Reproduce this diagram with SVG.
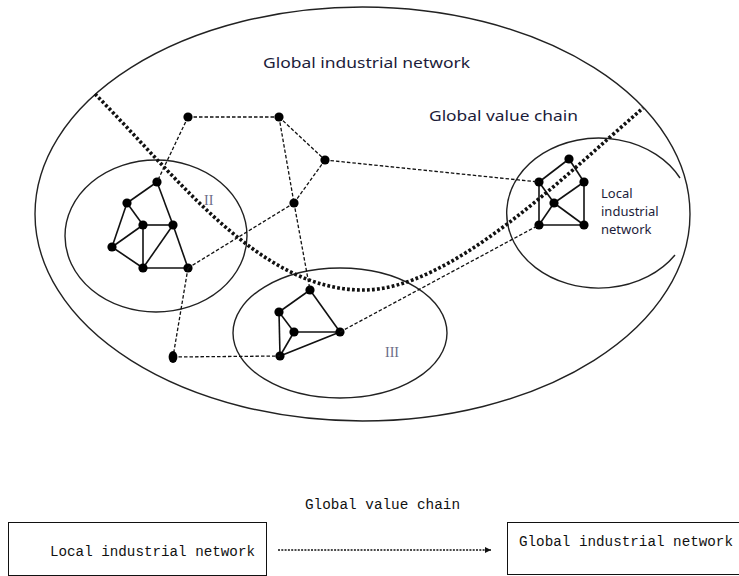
<svg xmlns="http://www.w3.org/2000/svg" width="739" height="576" viewBox="0 0 739 576">
<defs>
<style>
.ring{fill:none;stroke:#222;stroke-width:1.4}
.edge{stroke:#111;stroke-width:1.6;fill:none}
.dash{stroke:#111;stroke-width:1.3;stroke-dasharray:3.5 2;fill:none}
.dot{fill:#000}
.gvc{fill:none;stroke:#111;stroke-width:3.6;stroke-dasharray:2.8 2.2}
.lbl{font-family:"Noto Sans","Open Sans",sans-serif;fill:#1c1c3a}
.roman{font-family:"Liberation Serif",serif;font-size:14px;fill:#6c6c86}
.mono{font-family:"Liberation Mono",monospace;font-size:14px;fill:#111}
.box{fill:#fff;stroke:#111;stroke-width:1}
</style>
<marker id="ah" markerWidth="8" markerHeight="8" refX="6" refY="3" orient="auto" markerUnits="userSpaceOnUse">
<path d="M0,0 L6,3 L0,6 Z" fill="#111"/>
</marker>
</defs>
<rect width="739" height="576" fill="#fff"/>

<g id="global-network">
<ellipse class="ring" cx="362.5" cy="214" rx="327.5" ry="207"/>
<text class="lbl" x="263" y="68" font-size="15" textLength="207" lengthAdjust="spacingAndGlyphs">Global industrial network</text>
</g>

<g id="cluster-II">
<ellipse class="ring" cx="156" cy="236" rx="91" ry="76"/>
<text class="roman" x="204" y="205">II</text>
<g class="edge">
<line x1="157" y1="182" x2="127" y2="203"/>
<line x1="157" y1="182" x2="173" y2="225"/>
<line x1="127" y1="203" x2="143" y2="225"/>
<line x1="127" y1="203" x2="112" y2="247"/>
<line x1="143" y1="225" x2="173" y2="225"/>
<line x1="143" y1="225" x2="112" y2="247"/>
<line x1="143" y1="225" x2="143" y2="268"/>
<line x1="173" y1="225" x2="143" y2="268"/>
<line x1="173" y1="225" x2="188" y2="268"/>
<line x1="112" y1="247" x2="143" y2="268"/>
<line x1="143" y1="268" x2="188" y2="268"/>
</g>
<g class="dot">
<circle cx="157" cy="182" r="4.6"/>
<circle cx="127" cy="203" r="4.6"/>
<circle cx="143" cy="225" r="4.6"/>
<circle cx="173" cy="225" r="4.6"/>
<circle cx="112" cy="247" r="4.6"/>
<circle cx="143" cy="268" r="4.6"/>
<circle cx="188" cy="268" r="4.6"/>
</g>
</g>

<g id="cluster-III">
<ellipse class="ring" cx="340" cy="333" rx="107" ry="65"/>
<text class="roman" x="385" y="357">III</text>
<g class="edge">
<line x1="310" y1="290" x2="279" y2="312"/>
<line x1="310" y1="290" x2="340" y2="332"/>
<line x1="279" y1="312" x2="294" y2="332"/>
<line x1="279" y1="312" x2="280" y2="356"/>
<line x1="294" y1="332" x2="340" y2="332"/>
<line x1="294" y1="332" x2="280" y2="356"/>
<line x1="340" y1="332" x2="280" y2="356"/>
</g>
<g class="dot">
<circle cx="310" cy="290" r="4.6"/>
<circle cx="279" cy="312" r="4.6"/>
<circle cx="294" cy="332" r="4.6"/>
<circle cx="340" cy="332" r="4.6"/>
<circle cx="280" cy="356" r="4.6"/>
</g>
</g>

<g id="cluster-local">
<path class="ring" d="M680,178 A92,75 0 1 0 675,255"/>
<text class="lbl" font-size="13"><tspan x="601" y="198">Local</tspan><tspan x="601" y="216">industrial</tspan><tspan x="601" y="234">network</tspan></text>
<g class="edge">
<line x1="569" y1="159" x2="539" y2="182"/>
<line x1="569" y1="159" x2="584" y2="182"/>
<line x1="539" y1="182" x2="539" y2="225"/>
<line x1="539" y1="182" x2="554" y2="203"/>
<line x1="584" y1="182" x2="584" y2="225"/>
<line x1="584" y1="182" x2="554" y2="203"/>
<line x1="554" y1="203" x2="539" y2="225"/>
<line x1="554" y1="203" x2="584" y2="225"/>
<line x1="539" y1="225" x2="584" y2="225"/>
</g>
<g class="dot">
<circle cx="569" cy="159" r="4.6"/>
<circle cx="539" cy="182" r="4.6"/>
<circle cx="584" cy="182" r="4.6"/>
<circle cx="554" cy="203" r="4.6"/>
<circle cx="539" cy="225" r="4.6"/>
<circle cx="584" cy="225" r="4.6"/>
</g>
</g>

<g id="connectors">
<line class="dash" x1="188" y1="117" x2="279" y2="117"/>
<line class="dash" x1="188" y1="117" x2="157" y2="182"/>
<line class="dash" x1="279" y1="117" x2="325" y2="160"/>
<line class="dash" x1="279" y1="117" x2="294" y2="203"/>
<line class="dash" x1="294" y1="203" x2="310" y2="290"/>
<line class="dash" x1="325" y1="160" x2="294" y2="203"/>
<line class="dash" x1="294" y1="203" x2="188" y2="268"/>
<line class="dash" x1="325" y1="160" x2="539" y2="182"/>
<line class="dash" x1="188" y1="268" x2="173" y2="357"/>
<line class="dash" x1="173" y1="357" x2="280" y2="356"/>
<line class="dash" x1="340" y1="332" x2="539" y2="225"/>
</g>

<g id="relay-nodes" class="dot">
<circle cx="188" cy="117" r="4.6"/>
<circle cx="279" cy="117" r="4.6"/>
<circle cx="325" cy="160" r="4.6"/>
<circle cx="294" cy="203" r="4.6"/>
<ellipse cx="173" cy="357" rx="4.4" ry="6"/>
</g>

<g id="global-value-chain">
<path class="gvc" d="M95,94 C180,180 260,290 363,290 C450,290 560,180 643,108"/>
<text class="lbl" x="429" y="121" font-size="15" textLength="149" lengthAdjust="spacingAndGlyphs">Global value chain</text>
</g>

<g id="legend">
<text class="mono" x="305" y="509" textLength="155" lengthAdjust="spacingAndGlyphs">Global value chain</text>
<g id="legend-local">
<rect class="box" x="8.5" y="522.5" width="258" height="53"/>
<text class="mono" x="50" y="556" textLength="205" lengthAdjust="spacingAndGlyphs">Local industrial network</text>
</g>
<g id="legend-global">
<rect class="box" x="507.5" y="522.5" width="232" height="52"/>
<text class="mono" x="519" y="546" textLength="214" lengthAdjust="spacingAndGlyphs">Global industrial network</text>
</g>
<line x1="278" y1="550" x2="491" y2="550" stroke="#111" stroke-width="1.3" stroke-dasharray="2 1.3" marker-end="url(#ah)"/>
</g>
</svg>
